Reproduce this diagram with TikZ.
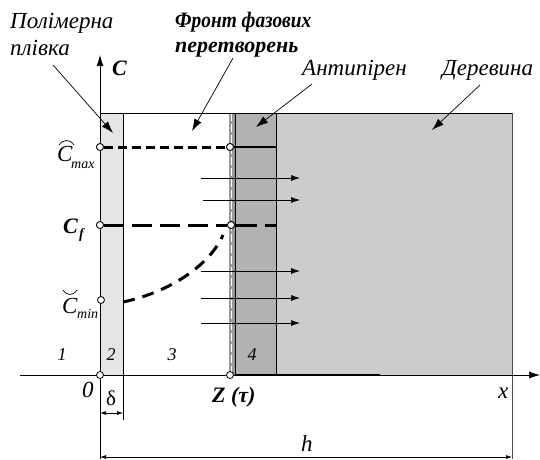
\documentclass[tikz,border=0pt]{standalone}
\usepackage{fontspec}
\setmainfont{Liberation Serif}
\usetikzlibrary{arrows.meta}
\begin{document}
\begin{tikzpicture}[x=1pt,y=-1pt,
  lbl/.style={font=\fontsize{23}{26}\selectfont\itshape, inner sep=0pt, anchor=base west},
  blbl/.style={font=\fontsize{22}{26}\selectfont\bfseries\itshape, inner sep=0pt, anchor=base west},
  num/.style={font=\fontsize{18}{20}\selectfont\itshape, inner sep=0pt},
  sub/.style={font=\fontsize{14}{16}\selectfont\itshape, inner sep=0pt, anchor=base west},
  dot/.style={circle, draw, fill=white, inner sep=0pt, minimum size=7pt, line width=0.8pt},
  flow/.style={-{Latex[length=9pt,width=6pt]}, line width=0.7pt},
  leader/.style={-{Latex[length=12pt,width=8pt]}, line width=0.7pt},
  thinl/.style={line width=0.7pt},
  dimarr/.style={{Latex[length=6pt,width=4pt]}-{Latex[length=6pt,width=4pt]}, line width=0.7pt}
]
\useasboundingbox (0,0) rectangle (540,459);
% regions
\fill[black!10] (100,113) rectangle (123,375);
\fill[black!30] (235,113) rectangle (276,375);
\fill[black!20] (276,113) rectangle (512,375);
\fill[black!40] (229,113) rectangle (234.5,375);
\draw[white, line width=1.2pt, dash pattern=on 8pt off 3pt] (231.8,113) -- (231.8,375);
% borders
\draw[thinl] (100,113) -- (512,113);
\draw[thinl] (123,113) -- (123,420);
\draw[line width=1pt] (235,113) -- (235,375);
\draw[line width=1pt] (276,113) -- (276,375);
\draw[black!70, thinl] (512,113) -- (512,459);
% axes
\coordinate (cbot) at (100,459);
\coordinate (ctop) at (100,55);
\coordinate (xl) at (20,375);
\coordinate (xr) at (540,375);
\draw[-{Latex[length=11pt,width=7pt]}, thinl] (cbot) -- (ctop);
\draw[-{Latex[length=11pt,width=7pt]}, thinl] (xl) -- (xr);
\draw[line width=1.5pt] (235,375) -- (380,375);
% dimensions
\coordinate (d1) at (100,413);
\coordinate (d2) at (123,413);
\draw[dimarr] (d1) -- (d2);
\coordinate (h1) at (100,457);
\coordinate (h2) at (512,457);
\draw[dimarr] (h1) -- (h2);
% concentration levels
\node[dot] (cmaxL) at (100,147) {};
\node[dot] (cmaxR) at (230,147) {};
\node[dot] (cfL) at (100,225) {};
\node[dot] (cfR) at (231,225) {};
\node[dot] (cminL) at (101,300) {};
\node[dot] (o) at (100,375) {};
\node[dot] (z) at (230,375) {};
\coordinate (cmaxE) at (276,147);
\coordinate (cfE) at (276,225);
\draw[line width=3pt, dash pattern=on 9pt off 5pt] (cmaxL) -- (cmaxR);
\draw[line width=2pt] (cmaxR) -- (cmaxE);
\draw[line width=3pt, dash pattern=on 20pt off 8pt] (cfL) -- (cfR);
\draw[line width=3pt, dash pattern=on 22pt off 8pt] (cfR) -- (cfE);
\coordinate (cs) at (123,302);
\coordinate (ce) at (223,235);
\draw[line width=3pt, dash pattern=on 12pt off 8pt] (cs) .. controls (170,292) and (210,265) .. (ce);
% redraw dots on top
\node[dot] at (100,147) {};
\node[dot] at (230,147) {};
\node[dot] at (100,225) {};
\node[dot] at (231,225) {};
% flow arrows
\foreach \y/\x [count=\i] in {178/201, 200/203, 271/201, 298/201, 323/201} {
  \coordinate (fa\i) at (\x,\y);
  \coordinate (fb\i) at (300,\y);
  \draw[flow] (fa\i) -- (fb\i);
}
% labels
\node[lbl] (lpol1) at (10,28) {Полімерна};
\node[lbl] (lpol2) at (10,55) {плівка};
\node[blbl] (lfr1) at (175,27) {\scalebox{0.88}[1]{Фронт фазових}};
\node[blbl] (lfr2) at (175,52) {перетворень};
\node[lbl] (lant) at (302,75) {Антипірен};
\node[lbl] (lder) at (442,75) {Деревина};
\node[blbl] (lc) at (112,75) {C};
\node[lbl] (lx) at (498,398) {x};
\node[lbl] (lh) at (301,451) {h};
\node[lbl] (l0) at (82,397) {0};
\node[inner sep=0pt, anchor=base west, font=\fontsize{21}{22}\selectfont] (ld) at (106,405) {δ};
\node[blbl] (lz) at (212,402) {Z (τ)};
\node[num] (n1) at (62,355) {1};
\node[num] (n2) at (111,355) {2};
\node[num] (n3) at (172,355) {3};
\node[num] (n4) at (252,355) {4};
% C labels
\node[lbl] (cmaxC) at (57,161) {C};
\node[sub] (cmaxS) at (71,168) {max};
\draw[line width=0.7pt] (59,145) .. controls (63,139) and (70,139) .. (74,145);
\node[blbl] (cfC) at (63,233) {C};
\node[inner sep=0pt, anchor=base west, font=\fontsize{14}{16}\selectfont\bfseries\itshape] (cfS) at (79,238) {f};
\node[lbl] (cminC) at (62,313) {C};
\node[sub] (cminS) at (77,318) {min};
\draw[line width=0.7pt] (63,290) .. controls (67,296) and (73,296) .. (77,290);
% leaders
\coordinate (p1) at (53,65);
\coordinate (p2) at (113,133);
\draw[leader] (p1) -- (p2);
\coordinate (f1) at (233,58);
\coordinate (f2) at (192,131);
\draw[leader] (f1) -- (f2);
\coordinate (a1) at (312,84);
\coordinate (a2) at (256,127);
\draw[leader] (a1) -- (a2);
\coordinate (w1) at (480,85);
\coordinate (w2) at (432,130);
\draw[leader] (w1) -- (w2);
\end{tikzpicture}
\end{document}
